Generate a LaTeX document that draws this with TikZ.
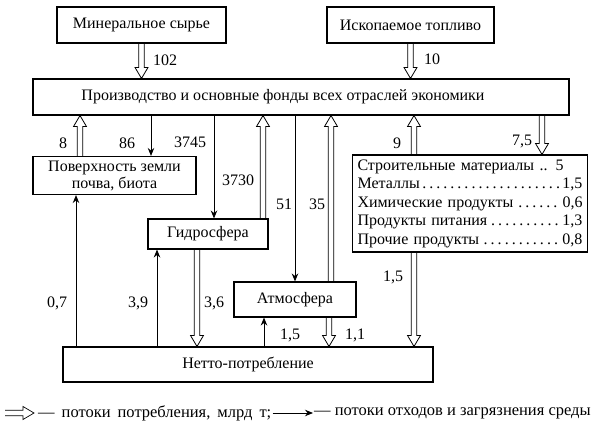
\documentclass[tikz,border=0pt]{standalone}
\usepackage{fontspec}
\setmainfont{Liberation Serif}
\usetikzlibrary{calc,arrows.meta,positioning}

\def\flowShaft{2.7pt} % half width of a hollow arrow shaft
\def\flowHead{6.5pt}  % half width of its head
\def\flowTip{11pt}    % length of its head

\tikzset{
	box/.style={draw, line width=1.1pt, inner sep=2pt, align=center},
	waste/.style={line width=0.9pt, -{Stealth[length=8pt,width=6.5pt]}},
	flow/.style={line width=0.8pt, to path={
		($(\tikztostart)!\flowShaft!90:(\tikztotarget)$) --
		($($(\tikztotarget)!\flowTip!(\tikztostart)$)!\flowShaft!90:(\tikztotarget)$) --
		($($(\tikztotarget)!\flowTip!(\tikztostart)$)!\flowHead!90:(\tikztotarget)$) --
		(\tikztotarget) --
		($($(\tikztotarget)!\flowTip!(\tikztostart)$)!\flowHead!-90:(\tikztotarget)$) --
		($($(\tikztotarget)!\flowTip!(\tikztostart)$)!\flowShaft!-90:(\tikztotarget)$) --
		($(\tikztostart)!\flowShaft!-90:(\tikztotarget)$)}},
	num/.style={inner sep=1pt}
}

\begin{document}
\begin{tikzpicture}[x=1pt, y=-1pt, font=\fontsize{16}{17}\selectfont]
		\useasboundingbox (0,0) rectangle (600,427);
		
		% Boxes
		\node[box, minimum width=169pt, minimum height=36pt] (mineral) at (141.5,25) {Минеральное сырье};
		\node[box, minimum width=167pt, minimum height=36pt] (fuel) at (410.5,25) {Ископаемое топливо};
		\node[box, minimum width=536pt, minimum height=36pt] (prod) at (301,97) {Производство и основные фонды всех отраслей экономики\hspace{36pt}};
		\node[box, minimum width=163pt, minimum height=38pt] (surf) at (114.5,175.5) {Поверхность земли\\почва, биота};
		\node[box, minimum width=120pt, minimum height=30pt] (hydro) at (208,234) {Гидросфера};
		\node[box, minimum width=122pt, minimum height=35pt] (atmo) at (295,299.5) {Атмосфера};
		\node[box, minimum width=370pt, minimum height=35pt] (netto) at (248,364.5) {Нетто-потребление};
		\node[box, text width=225pt, minimum height=97pt, inner xsep=5pt, inner ysep=1pt, align=left,
			font=\fontsize{16}{18.5}\selectfont] (goods) at (470,203.5)
			{Строительные материалы .. 5\\
			 Металлы\dotfill 1,5\\
			 Химические продукты\dotfill 0,6\\
			 Продукты питания\dotfill 1,3\\
			 Прочие продукты\dotfill 0,8};
		
		% Columns of the vertical connectors
		\coordinate (c8) at (80,0);
		\coordinate (c07) at (76,0);
		\coordinate (c86) at (151,0);
		\coordinate (c39) at (157,0);
		\coordinate (c36) at (197,0);
		\coordinate (c3745) at (214,0);
		\coordinate (c3730) at (263,0);
		\coordinate (c15) at (264,0);
		\coordinate (c11) at (329,0);
		\coordinate (c35) at (331,0);
		\coordinate (c9) at (414,0);
		\coordinate (c75) at (542,0);
		
		% Consumption flows
		\draw[flow] (mineral.south) to (prod.north -| mineral);
		\draw[flow] (fuel.south) to (prod.north -| fuel);
		\draw[flow] (surf.north -| c8) to (prod.south -| c8);
		\draw[flow] (hydro.north -| c3730) to (prod.south -| c3730);
		\draw[flow] (atmo.north -| c35) to (prod.south -| c35);
		\draw[flow] (goods.north -| c9) to (prod.south -| c9);
		\draw[flow] (prod.south -| c75) to (goods.north -| c75);
		\draw[flow] (hydro.south -| c36) to (netto.north -| c36);
		\draw[flow] (atmo.south -| c11) to (netto.north -| c11);
		\draw[flow] (goods.south -| c9) to (netto.north -| c9);
		
		% Waste and pollution flows
		\draw[waste] (prod.south -| c86) -- (surf.north -| c86);
		\draw[waste] (prod.south -| c3745) -- (hydro.north -| c3745);
		\draw[waste] (prod.south -| atmo) -- (atmo.north);
		\draw[waste] (netto.north -| c07) -- (surf.south -| c07);
		\draw[waste] (netto.north -| c39) -- (hydro.south -| c39);
		\draw[waste] (netto.north -| c15) -- (atmo.south -| c15);
		
		% Flow values
		\node[num] (n102) at (165,60) {102};
		\node[num] (n10) at (432,59) {10};
		\node[num] (n8) at (63,143) {8};
		\node[num] (n86) at (127,143) {86};
		\node[num] (n3745) at (190,142) {3745};
		\node[num] (n3730) at (238,180) {3730};
		\node[num] (n51) at (284,204) {51};
		\node[num] (n35) at (317,204) {35};
		\node[num] (n9) at (397,143) {9};
		\node[num] (n75) at (522,141) {7,5};
		\node[num] (n07) at (57,303) {0,7};
		\node[num] (n39) at (138,303) {3,9};
		\node[num] (n36) at (214,303) {3,6};
		\node[num] (n15a) at (290,335) {1,5};
		\node[num] (n11) at (355,335) {1,1};
		\node[num] (n15b) at (393,277) {1,5};
		
		% Legend
		\coordinate (la) at (5,413);
		\coordinate (lb) at (34,413);
		\draw[flow, line width=0.7pt] (la) to (lb);
		\node[num, anchor=west, font=\fontsize{16.5}{17}\selectfont] (leg1) at (37,413)
			{\spaceskip=7pt — потоки потребления, млрд т;};
		\node[num, anchor=west, font=\fontsize{16.5}{17}\selectfont] (leg2) at (313,413)
			{— потоки отходов и загрязнения среды};
		\draw[waste] (leg1) -- (leg2);
	\end{tikzpicture}
\end{document}
